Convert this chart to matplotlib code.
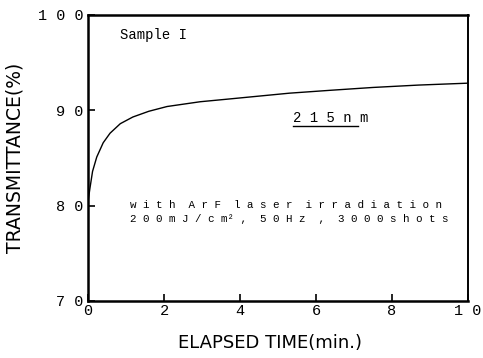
import matplotlib
matplotlib.use("Agg")
import matplotlib.pyplot as plt

# data
time_min = [0.0, 0.05, 0.12, 0.23, 0.4, 0.58, 0.85, 1.18, 1.6, 2.08, 2.95, 3.74, 4.26, 5.3, 6.37, 7.5, 8.7, 10.0]
transmittance = [80.4, 81.8, 83.6, 85.1, 86.6, 87.6, 88.6, 89.3, 89.9, 90.4, 90.9, 91.2, 91.4, 91.8, 92.1, 92.4, 92.65, 92.85]

x_ticks = [0, 2, 4, 6, 8, 10]
y_ticks = [70, 80, 90, 100]
x_ticklabels = ["0", "2", "4", "6", "8", "1 0"]
y_ticklabels = ["7 0", "8 0", "9 0", "1 0 0"]

mono = "Liberation Mono"

fig = plt.figure(figsize=(4.83, 3.58), dpi=100)
ax = fig.add_axes([88 / 483, 1 - 301 / 358, 380 / 483, 286 / 358])

ax.plot(time_min, transmittance, color="black", linewidth=1.0)

ax.set_xlim(0, 10)
ax.set_ylim(70, 100)
ax.set_xticks(x_ticks)
ax.set_xticklabels(x_ticklabels, fontfamily=mono, fontsize=11)
ax.set_yticks(y_ticks)
ax.set_yticklabels(y_ticklabels, fontfamily=mono, fontsize=11)
ax.tick_params(direction="in", length=5, width=1.2, pad=3)
ax.tick_params(axis="x", pad=2)

for side in ["left", "bottom", "top"]:
    ax.spines[side].set_linewidth(1.8)
ax.spines["right"].set_linewidth(1.4)

ax.set_ylabel("TRANSMITTANCE(%)", fontfamily="DejaVu Sans", fontsize=13.5, labelpad=10)
ax.set_xlabel("ELAPSED TIME(min.)", fontfamily="DejaVu Sans", fontsize=13)
ax.xaxis.set_label_coords(0.48, -0.115)

ax.text(0.85, 97.9, "Sample I", fontfamily=mono, fontsize=10, va="center")
ax.text(5.4, 89.2, "2 1 5 n m", fontfamily=mono, fontsize=10, va="center")
ax.plot([5.4, 7.1], [88.4, 88.4], color="black", linewidth=1.0)
ax.text(1.1, 80.1, "w i t h  A r F  l a s e r  i r r a d i a t i o n",
        fontfamily=mono, fontsize=7.8, va="center")
ax.text(1.1, 78.6, "2 0 0 m J / c m² ,  5 0 H z  ,  3 0 0 0 s h o t s",
        fontfamily=mono, fontsize=7.8, va="center")

fig.savefig("out.png", dpi=100)
